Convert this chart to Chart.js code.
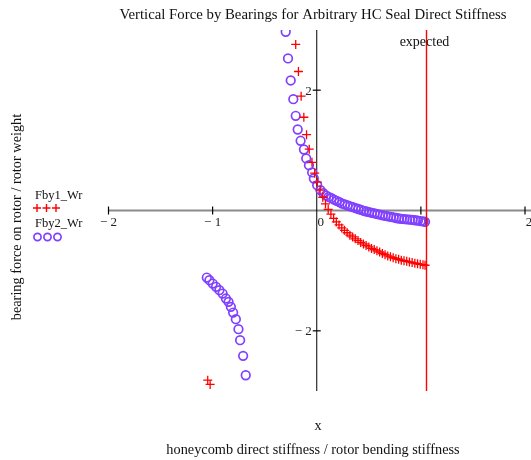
<!DOCTYPE html>
<html>
<head>
<meta charset="utf-8">
<script src="https://cdn.jsdelivr.net/npm/chart.js@4"></script>
<style>
  body { margin: 0; background: #fff; }
  canvas { display: block; }
</style>
</head>
<body>
<canvas id="chart" width="531" height="460"></canvas>
<script>
// Fby1_Wr (red crosses)
const fby1X = [-1.047, -1.024,
  -0.202, -0.176, -0.150, -0.124, -0.098, -0.072, -0.046, -0.020, 0.006, 0.032,
  0.058, 0.084, 0.110, 0.136, 0.162, 0.188, 0.214, 0.240, 0.266, 0.292,
  0.318, 0.344, 0.370, 0.396, 0.422, 0.448, 0.474, 0.500, 0.526, 0.552,
  0.578, 0.604, 0.630, 0.656, 0.682, 0.708, 0.734, 0.760, 0.786, 0.812,
  0.838, 0.864, 0.890, 0.916, 0.942, 0.968, 0.994, 1.020, 1.040];
const fby1Y = [-2.82, -2.89,
  2.76, 2.31, 1.90, 1.55, 1.26, 1.02, 0.80, 0.62, 0.47, 0.34,
  0.22, 0.11, 0.02, -0.06, -0.13, -0.19, -0.24, -0.29, -0.33, -0.37,
  -0.41, -0.44, -0.47, -0.50, -0.53, -0.555, -0.58, -0.605, -0.63, -0.65,
  -0.67, -0.69, -0.715, -0.735, -0.755, -0.77, -0.785, -0.80, -0.81, -0.825,
  -0.835, -0.845, -0.855, -0.865, -0.875, -0.885, -0.895, -0.90, -0.91];

// Fby2_Wr (purple circles)
const fby2X = [-1.056, -1.031, -0.999, -0.967, -0.935, -0.904, -0.872, -0.847, -0.825, -0.803,
  -0.777, -0.752, -0.736, -0.707, -0.682,
  -0.298, -0.276, -0.250, -0.225, -0.202, -0.183, -0.155, -0.123, -0.101, -0.075,
  -0.044, -0.028, 0.004, 0.036,
  0.062, 0.088, 0.114, 0.140, 0.166, 0.192, 0.218, 0.244, 0.270, 0.296,
  0.322, 0.348, 0.374, 0.400, 0.426, 0.452, 0.478, 0.504, 0.530, 0.556,
  0.582, 0.608, 0.634, 0.660, 0.686, 0.712, 0.738, 0.764, 0.790, 0.816,
  0.842, 0.868, 0.894, 0.920, 0.946, 0.972, 0.998, 1.024, 1.040];
const fby2Y = [-1.114, -1.159, -1.214, -1.268, -1.325, -1.380, -1.463, -1.518, -1.601, -1.696,
  -1.807, -1.973, -2.156, -2.416, -2.738,
  2.971, 2.527, 2.161, 1.850, 1.574, 1.346, 1.159, 1.014, 0.865, 0.753,
  0.632, 0.532, 0.421, 0.337,
  0.29, 0.25, 0.225, 0.205, 0.18, 0.16, 0.14, 0.115, 0.10, 0.085,
  0.07, 0.055, 0.04, 0.025, 0.01, -0.005, -0.017, -0.027, -0.038, -0.048,
  -0.06, -0.07, -0.08, -0.09, -0.098, -0.107, -0.115, -0.125, -0.133, -0.138,
  -0.144, -0.149, -0.153, -0.157, -0.162, -0.168, -0.175, -0.182, -0.188];

const xTicks = [-2, -1, 0, 1, 2];
const xTickLabels = ["\u2212 2", "\u2212 1", "0", "1", "2"];
const yTicks = [-2, 2];
const yTickLabels = ["\u2212 2", "2"];
const expectedX = 1.045;

const serif = '"Liberation Serif", "Times New Roman", serif';
const red = "#ff0000";
const purple = "#8040ff";

const axesPlugin = {
  id: "mathcadAxes",
  beforeDatasetsDraw(chart) {
    const { ctx, chartArea, scales } = chart;
    const x0 = scales.x.getPixelForValue(0);
    const y0 = scales.y.getPixelForValue(0);
    ctx.save();
    // x axis
    ctx.strokeStyle = "#8a8a8a";
    ctx.lineWidth = 2;
    ctx.beginPath();
    ctx.moveTo(chartArea.left, y0);
    ctx.lineTo(chart.width, y0);
    ctx.stroke();
    // y axis
    ctx.strokeStyle = "#000";
    ctx.lineWidth = 1;
    ctx.beginPath();
    ctx.moveTo(x0, chartArea.top);
    ctx.lineTo(x0, chartArea.bottom);
    ctx.stroke();
    // ticks
    ctx.lineWidth = 1.2;
    xTicks.forEach(v => {
      if (v === 0) return;
      const px = scales.x.getPixelForValue(v);
      ctx.beginPath();
      ctx.moveTo(px, y0 - 4);
      ctx.lineTo(px, y0 + 4);
      ctx.stroke();
    });
    yTicks.forEach(v => {
      const py = scales.y.getPixelForValue(v);
      ctx.beginPath();
      ctx.moveTo(x0 - 4, py);
      ctx.lineTo(x0 + 4, py);
      ctx.stroke();
    });
    // tick labels
    ctx.fillStyle = "#222";
    ctx.font = "13px " + serif;
    ctx.textBaseline = "middle";
    ctx.textAlign = "center";
    xTicks.forEach((v, i) => {
      const px = scales.x.getPixelForValue(v);
      const shift = v >= 0 ? 4 : 0;
      ctx.fillText(xTickLabels[i], px + shift, y0 + 12);
    });
    ctx.textAlign = "right";
    yTicks.forEach((v, i) => {
      ctx.fillText(yTickLabels[i], x0 - 5, scales.y.getPixelForValue(v) + 1);
    });
    ctx.restore();
  },
  afterDatasetsDraw(chart) {
    const { ctx, chartArea, scales } = chart;
    const px = Math.round(scales.x.getPixelForValue(expectedX)) + 0.5;
    ctx.save();
    ctx.strokeStyle = red;
    ctx.lineWidth = 1.4;
    ctx.beginPath();
    ctx.moveTo(px, chartArea.top);
    ctx.lineTo(px, chartArea.bottom);
    ctx.stroke();
    ctx.fillStyle = "#111";
    ctx.font = "14px " + serif;
    ctx.textAlign = "center";
    ctx.textBaseline = "middle";
    ctx.fillText("expected", px - 2, 42);
    ctx.restore();
  },
  afterDraw(chart) {
    const { ctx } = chart;
    ctx.save();
    ctx.fillStyle = "#111";
    ctx.textBaseline = "middle";
    ctx.textAlign = "center";
    ctx.font = "14.8px " + serif;
    ctx.fillText("Vertical Force by Bearings for Arbitrary HC Seal Direct Stiffness", 313, 15);
    ctx.font = "14.3px " + serif;
    ctx.fillText("x", 318, 426);
    ctx.fillText("honeycomb direct stiffness / rotor bending stiffness", 313, 450);
    ctx.save();
    ctx.translate(17, 217);
    ctx.rotate(-Math.PI / 2);
    ctx.fillText("bearing force on rotor / rotor weight", 0, 0);
    ctx.restore();
    // legend
    ctx.textAlign = "left";
    ctx.font = "12.5px " + serif;
    ctx.fillText("Fby1_Wr", 35, 196);
    ctx.fillText("Fby2_Wr", 35, 224);
    ctx.lineWidth = 1.4;
    ctx.strokeStyle = red;
    [37, 46.5, 56].forEach(cx => {
      ctx.beginPath();
      ctx.moveTo(cx - 4, 208); ctx.lineTo(cx + 4, 208);
      ctx.moveTo(cx, 204); ctx.lineTo(cx, 212);
      ctx.stroke();
    });
    ctx.lineWidth = 1.7;
    ctx.strokeStyle = purple;
    [37.5, 47.5, 57.5].forEach(cx => {
      ctx.beginPath();
      ctx.arc(cx, 237, 3.6, 0, Math.PI * 2);
      ctx.stroke();
    });
    ctx.restore();
  }
};

new Chart(document.getElementById("chart"), {
  type: "scatter",
  data: {
    datasets: [
      {
        label: "Fby1_Wr",
        data: fby1X.map((x, i) => ({ x, y: fby1Y[i] })),
        pointStyle: "cross",
        pointRadius: 4.5,
        pointBorderColor: red,
        pointBorderWidth: 1.3,
        showLine: false
      },
      {
        label: "Fby2_Wr",
        data: fby2X.map((x, i) => ({ x, y: fby2Y[i] })),
        pointStyle: "circle",
        pointRadius: 4.3,
        pointBorderColor: purple,
        pointBackgroundColor: "rgba(0,0,0,0)",
        pointBorderWidth: 1.7,
        showLine: false
      }
    ]
  },
  options: {
    responsive: false,
    animation: false,
    layout: { padding: { left: 108.5, right: 3.5, top: 30, bottom: 69 } },
    scales: {
      x: { type: "linear", min: -2, max: 2, display: false },
      y: { type: "linear", min: -3, max: 3, display: false }
    },
    plugins: { legend: { display: false }, tooltip: { enabled: false } }
  },
  plugins: [axesPlugin]
});
</script>
</body>
</html>
